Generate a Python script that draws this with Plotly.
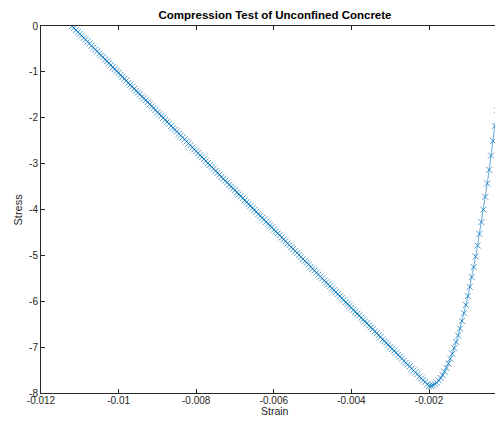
import plotly.graph_objects as go

strain = [
    -0.01120, -0.01115, -0.01110, -0.01105, -0.01100, -0.01095, -0.01090, -0.01085, -0.01080, -0.01075,
    -0.01070, -0.01065, -0.01060, -0.01055, -0.01050, -0.01045, -0.01040, -0.01035, -0.01030, -0.01025,
    -0.01020, -0.01015, -0.01010, -0.01005, -0.01000, -0.00995, -0.00990, -0.00985, -0.00980, -0.00975,
    -0.00970, -0.00965, -0.00960, -0.00955, -0.00950, -0.00945, -0.00940, -0.00935, -0.00930, -0.00925,
    -0.00920, -0.00915, -0.00910, -0.00905, -0.00900, -0.00895, -0.00890, -0.00885, -0.00880, -0.00875,
    -0.00870, -0.00865, -0.00860, -0.00855, -0.00850, -0.00845, -0.00840, -0.00835, -0.00830, -0.00825,
    -0.00820, -0.00815, -0.00810, -0.00805, -0.00800, -0.00795, -0.00790, -0.00785, -0.00780, -0.00775,
    -0.00770, -0.00765, -0.00760, -0.00755, -0.00750, -0.00745, -0.00740, -0.00735, -0.00730, -0.00725,
    -0.00720, -0.00715, -0.00710, -0.00705, -0.00700, -0.00695, -0.00690, -0.00685, -0.00680, -0.00675,
    -0.00670, -0.00665, -0.00660, -0.00655, -0.00650, -0.00645, -0.00640, -0.00635, -0.00630, -0.00625,
    -0.00620, -0.00615, -0.00610, -0.00605, -0.00600, -0.00595, -0.00590, -0.00585, -0.00580, -0.00575,
    -0.00570, -0.00565, -0.00560, -0.00555, -0.00550, -0.00545, -0.00540, -0.00535, -0.00530, -0.00525,
    -0.00520, -0.00515, -0.00510, -0.00505, -0.00500, -0.00495, -0.00490, -0.00485, -0.00480, -0.00475,
    -0.00470, -0.00465, -0.00460, -0.00455, -0.00450, -0.00445, -0.00440, -0.00435, -0.00430, -0.00425,
    -0.00420, -0.00415, -0.00410, -0.00405, -0.00400, -0.00395, -0.00390, -0.00385, -0.00380, -0.00375,
    -0.00370, -0.00365, -0.00360, -0.00355, -0.00350, -0.00345, -0.00340, -0.00335, -0.00330, -0.00325,
    -0.00320, -0.00315, -0.00310, -0.00305, -0.00300, -0.00295, -0.00290, -0.00285, -0.00280, -0.00275,
    -0.00270, -0.00265, -0.00260, -0.00255, -0.00250, -0.00245, -0.00240, -0.00235, -0.00230, -0.00225,
    -0.00220, -0.00215, -0.00210, -0.00205, -0.00200, -0.00195, -0.00190, -0.00185, -0.00180, -0.00175,
    -0.00170, -0.00165, -0.00160, -0.00155, -0.00150, -0.00145, -0.00140, -0.00135, -0.00130, -0.00125,
    -0.00120, -0.00115, -0.00110, -0.00105, -0.00100, -0.00095, -0.00090, -0.00085, -0.00080, -0.00075,
    -0.00070, -0.00065, -0.00060, -0.00055, -0.00050, -0.00045, -0.00040, -0.00035, -0.00030, -0.00025,
    -0.00020, -0.00015, -0.00010, -0.00005, 0.00000,
]

stress = [
    0.00, -0.04, -0.09, -0.13, -0.17, -0.21, -0.26, -0.30, -0.34, -0.38,
    -0.43, -0.47, -0.51, -0.55, -0.60, -0.64, -0.68, -0.73, -0.77, -0.81,
    -0.85, -0.90, -0.94, -0.98, -1.02, -1.07, -1.11, -1.15, -1.19, -1.24,
    -1.28, -1.32, -1.37, -1.41, -1.45, -1.49, -1.54, -1.58, -1.62, -1.66,
    -1.71, -1.75, -1.79, -1.83, -1.88, -1.92, -1.96, -2.00, -2.05, -2.09,
    -2.13, -2.18, -2.22, -2.26, -2.30, -2.35, -2.39, -2.43, -2.47, -2.52,
    -2.56, -2.60, -2.65, -2.69, -2.73, -2.77, -2.82, -2.86, -2.90, -2.94,
    -2.99, -3.03, -3.07, -3.11, -3.16, -3.20, -3.24, -3.29, -3.33, -3.37,
    -3.41, -3.46, -3.50, -3.54, -3.58, -3.63, -3.67, -3.71, -3.75, -3.80,
    -3.84, -3.88, -3.92, -3.97, -4.01, -4.05, -4.10, -4.14, -4.18, -4.22,
    -4.27, -4.31, -4.35, -4.39, -4.44, -4.48, -4.52, -4.56, -4.61, -4.65,
    -4.69, -4.74, -4.78, -4.82, -4.86, -4.91, -4.95, -4.99, -5.03, -5.08,
    -5.12, -5.16, -5.20, -5.25, -5.29, -5.33, -5.38, -5.42, -5.46, -5.50,
    -5.55, -5.59, -5.63, -5.67, -5.72, -5.76, -5.80, -5.84, -5.89, -5.93,
    -5.97, -6.02, -6.06, -6.10, -6.14, -6.19, -6.23, -6.27, -6.31, -6.36,
    -6.40, -6.44, -6.48, -6.53, -6.57, -6.61, -6.66, -6.70, -6.74, -6.78,
    -6.83, -6.87, -6.91, -6.95, -7.00, -7.04, -7.08, -7.12, -7.17, -7.21,
    -7.25, -7.30, -7.34, -7.38, -7.42, -7.47, -7.51, -7.55, -7.59, -7.64,
    -7.68, -7.72, -7.76, -7.81, -7.85, -7.845, -7.830, -7.806, -7.772, -7.727,
    -7.673, -7.610, -7.536, -7.453, -7.359, -7.256, -7.143, -7.021, -6.888, -6.746,
    -6.594, -6.432, -6.260, -6.079, -5.888, -5.686, -5.475, -5.255, -5.024, -4.784,
    -4.533, -4.273, -4.004, -3.724, -3.434, -3.135, -2.826, -2.507, -2.178, -1.840,
    -1.492, -1.133, -0.765, -0.388, 0.000,
]

x_tick_vals = [-0.012, -0.010, -0.008, -0.006, -0.004, -0.002]
x_tick_text = ["-0.012", "-0.01", "-0.008", "-0.006", "-0.004", "-0.002"]
y_tick_vals = [0, -1, -2, -3, -4, -5, -6, -7, -8]
y_tick_text = ["0", "-1", "-2", "-3", "-4", "-5", "-6", "-7", "-8"]

blue = "#0072BD"
axis_col = "#262626"
font_family = "Liberation Sans, Arial, Helvetica, sans-serif"

# page body has an 8px margin: figure sized to fit the window without overflow
W, H = 487, 409

fig = go.Figure()
fig.add_trace(go.Scatter(
    x=strain, y=stress, mode="lines+markers",
    line=dict(color=blue, width=0.6),
    marker=dict(symbol="x-thin", size=6, line=dict(color=blue, width=0.7)),
    cliponaxis=True, showlegend=False,
))

fig.update_layout(
    width=W, height=H,
    margin=dict(l=33, r=0, t=18, b=24),
    paper_bgcolor="white", plot_bgcolor="white",
    font=dict(family=font_family, size=10, color=axis_col),
    title=dict(
        text="<b>Compression Test of Unconfined Concrete</b>",
        x=267 / W, xanchor="center", xref="container",
        y=1 - 7 / H, yanchor="middle", yref="container",
        font=dict(family=font_family, size=11.5, color="black"),
    ),
    xaxis=dict(
        range=[-0.012, -0.0003], tickvals=x_tick_vals, ticktext=x_tick_text,
        ticks="inside", ticklen=4, tickcolor=axis_col, tickwidth=1,
        showline=True, linecolor=axis_col, linewidth=1, mirror="ticks",
        showgrid=False, zeroline=False, ticklabelstandoff=-2,
        tickfont=dict(size=10, color=axis_col),
    ),
    yaxis=dict(
        range=[-8, 0], tickvals=y_tick_vals, ticktext=y_tick_text,
        ticks="inside", ticklen=4, tickcolor=axis_col, tickwidth=1,
        showline=True, linecolor=axis_col, linewidth=1,
        showgrid=False, zeroline=False,
        tickfont=dict(size=10, color=axis_col),
    ),
    annotations=[
        dict(text="Strain", xref="paper", yref="paper", x=(267 - 33) / (W - 33), y=0,
             xanchor="center", yanchor="middle", yshift=-18, showarrow=False,
             font=dict(family=font_family, size=10.5, color=axis_col)),
        dict(text="Stress", xref="paper", yref="paper", x=0, y=0.5,
             xanchor="center", yanchor="middle", xshift=-24, textangle=-90,
             showarrow=False, font=dict(family=font_family, size=11, color=axis_col)),
    ],
)

fig.write_html("out.html")
